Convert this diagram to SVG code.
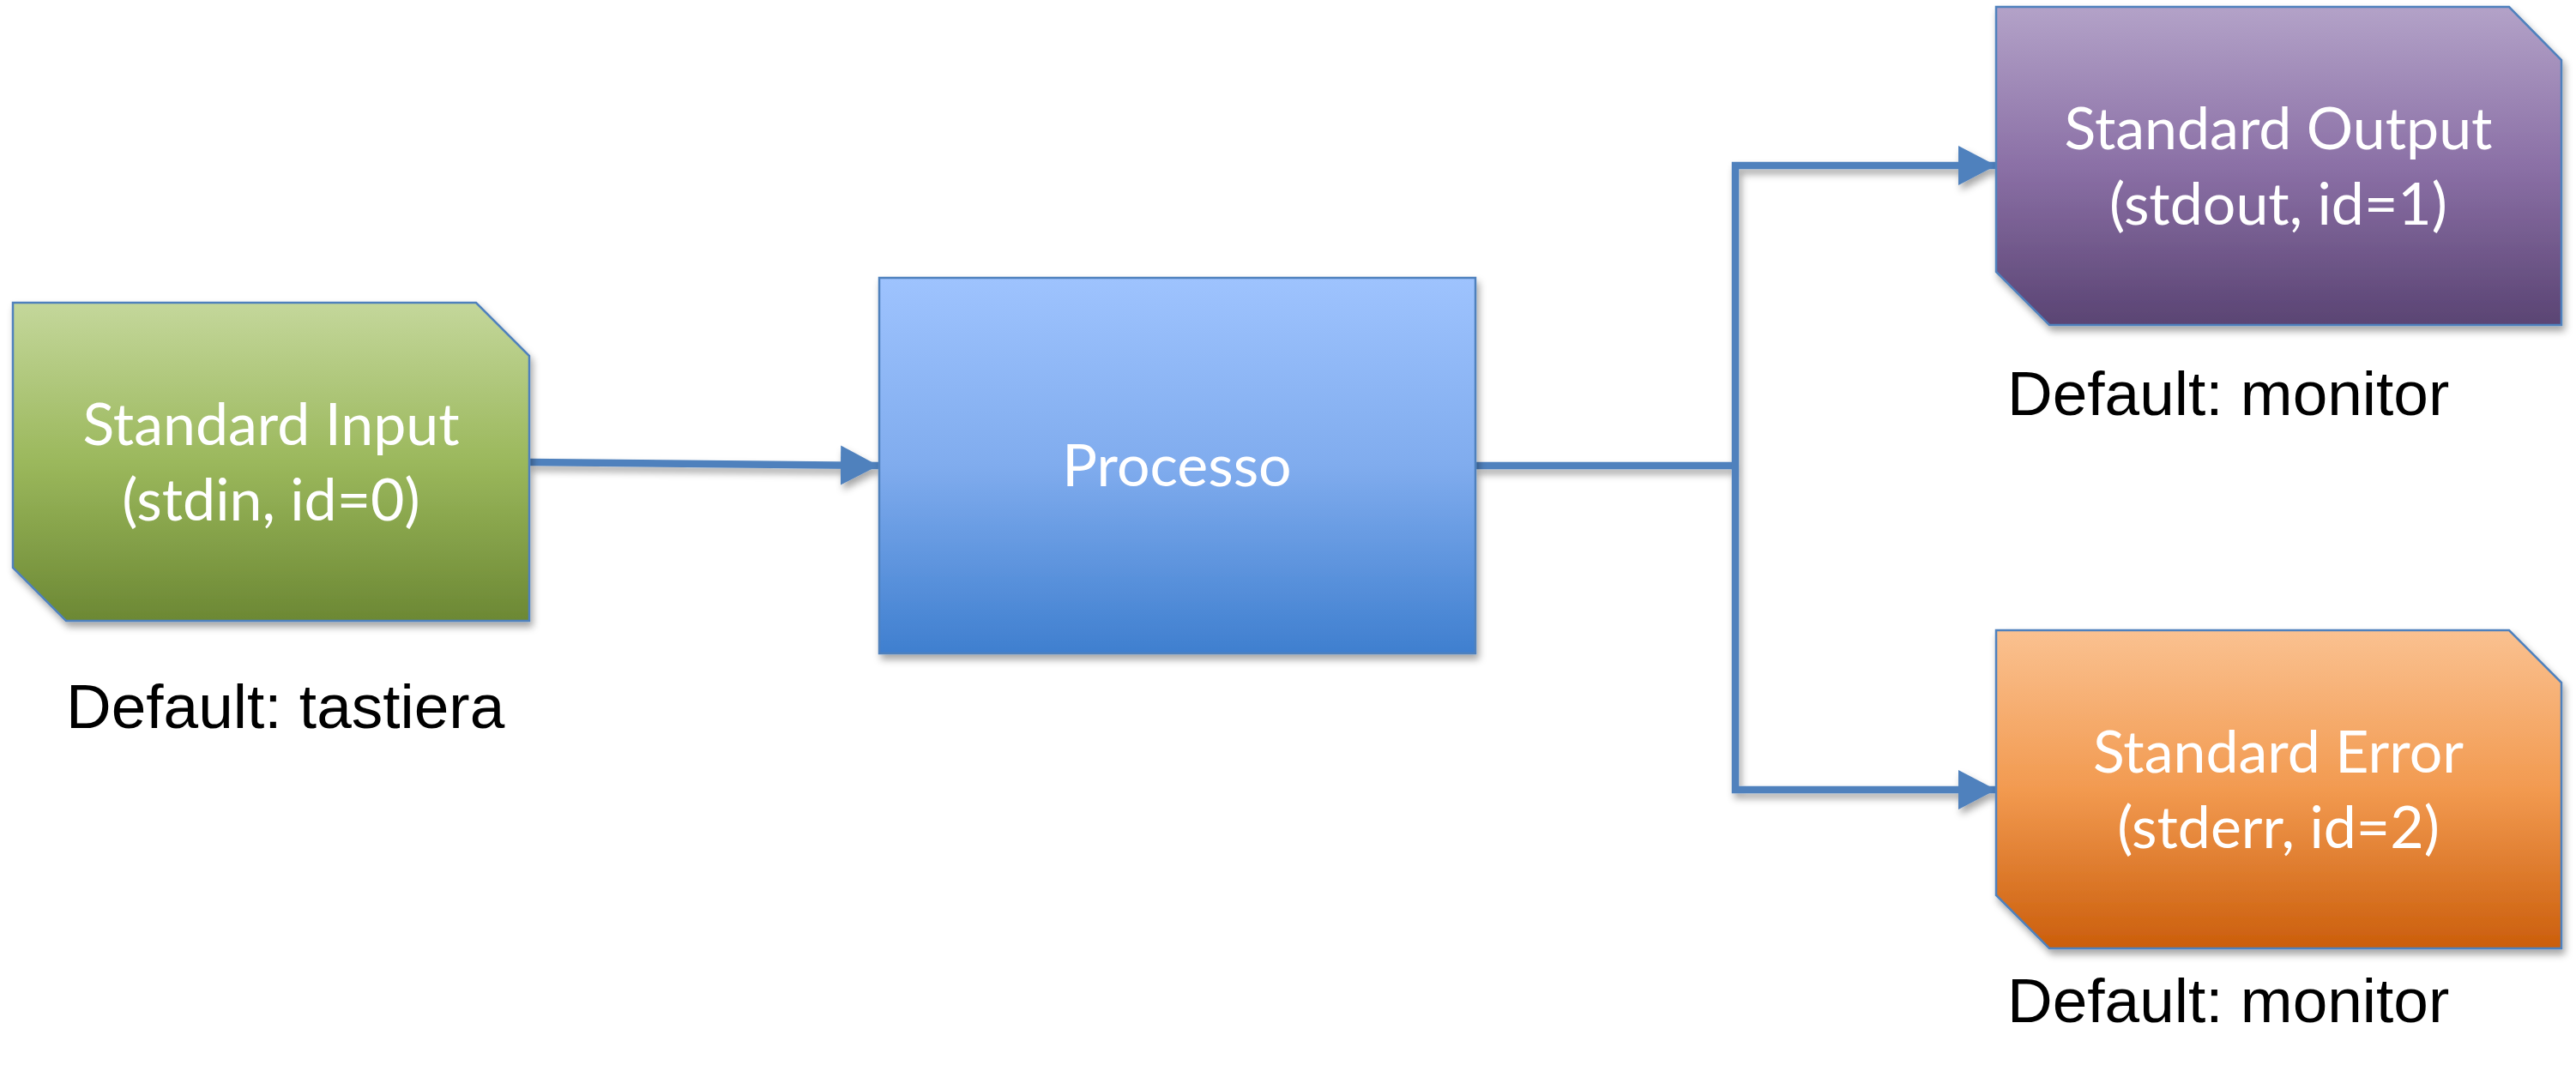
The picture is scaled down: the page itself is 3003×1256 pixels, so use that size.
<svg xmlns="http://www.w3.org/2000/svg" width="3003" height="1256" viewBox="0 0 3003 1256">
<style>
.node{stroke:#4F81BD;stroke-width:2.5;}
.ntxt{font-family:Lato,"Open Sans",sans-serif;font-size:68px;fill:#FFFFFF;text-anchor:middle;}
.lbl{font-family:"Liberation Sans",Arial,sans-serif;font-size:73px;fill:#000000;}
.conn{fill:none;stroke:#4F81BD;stroke-width:8.5;}
</style>
<defs>
<linearGradient id="gGreen" x1="0" y1="0" x2="0" y2="1">
<stop offset="0" stop-color="#C4D79B"/><stop offset="0.5" stop-color="#9BB85C"/><stop offset="1" stop-color="#6C8834"/>
</linearGradient>
<linearGradient id="gBlue" x1="0" y1="0" x2="0" y2="1">
<stop offset="0" stop-color="#9EC3FE"/><stop offset="0.5" stop-color="#80ACEE"/><stop offset="1" stop-color="#3F7FCF"/>
</linearGradient>
<linearGradient id="gPurple" x1="0" y1="0" x2="0" y2="1">
<stop offset="0" stop-color="#B3A2C8"/><stop offset="0.5" stop-color="#8B70A6"/><stop offset="1" stop-color="#5A4473"/>
</linearGradient>
<linearGradient id="gOrange" x1="0" y1="0" x2="0" y2="1">
<stop offset="0" stop-color="#FAC190"/><stop offset="0.5" stop-color="#F29A50"/><stop offset="1" stop-color="#CB5E0C"/>
</linearGradient>
<filter id="shadow" x="-10%" y="-10%" width="125%" height="130%">
<feDropShadow dx="3" dy="6" stdDeviation="4" flood-color="#000000" flood-opacity="0.35"/>
</filter>
<marker id="arrow" markerUnits="userSpaceOnUse" markerWidth="46" markerHeight="48" refX="44" refY="24" orient="auto">
<path d="M0,1 L44,24 L0,47 Z" fill="#4F81BD"/>
</marker>
</defs>
<rect width="3003" height="1256" fill="#FFFFFF"/>

<g id="connectors" filter="url(#shadow)">
<path class="conn" d="M617,539 L1024,543" marker-end="url(#arrow)"/>
<path class="conn" d="M1720,543 H2023"/>
<path class="conn" d="M2023,543 V193 H2327" marker-end="url(#arrow)"/>
<path class="conn" d="M2023,543 V921 H2327" marker-end="url(#arrow)"/>
</g>

<g id="stdin">
<polygon class="node" fill="url(#gGreen)" filter="url(#shadow)" points="15,353 555,353 617,415 617,724 77,724 15,662"/>
<text class="ntxt" x="316" y="519">Standard Input</text>
<text class="ntxt" x="316" y="607">(stdin, id=0)</text>
</g>

<g id="processo">
<rect class="node" fill="url(#gBlue)" filter="url(#shadow)" x="1025" y="324" width="695" height="438"/>
<text class="ntxt" x="1372" y="567">Processo</text>
</g>

<g id="stdout">
<polygon class="node" fill="url(#gPurple)" filter="url(#shadow)" points="2327,8 2925,8 2986,70 2986,379 2389,379 2327,317"/>
<text class="ntxt" x="2656" y="174">Standard Output</text>
<text class="ntxt" x="2656" y="262">(stdout, id=1)</text>
</g>

<g id="stderr">
<polygon class="node" fill="url(#gOrange)" filter="url(#shadow)" points="2327,735 2925,735 2986,796 2986,1106 2389,1106 2327,1044"/>
<text class="ntxt" x="2656" y="901">Standard Error</text>
<text class="ntxt" x="2656" y="989">(stderr, id=2)</text>
</g>

<g id="labels">
<text class="lbl" x="77" y="849">Default: tastiera</text>
<text class="lbl" x="2340" y="484">Default: monitor</text>
<text class="lbl" x="2340" y="1192">Default: monitor</text>
</g>
</svg>
